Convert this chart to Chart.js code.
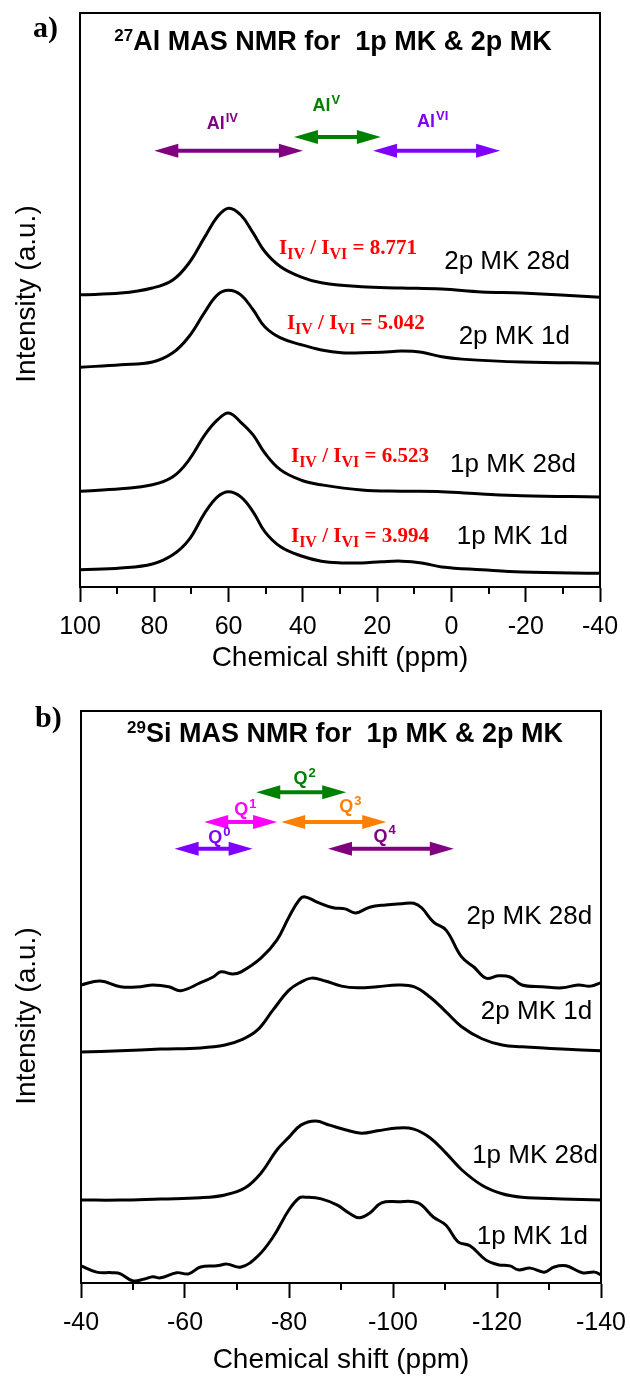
<!DOCTYPE html>
<html>
<head>
<meta charset="utf-8">
<script src="https://cdn.jsdelivr.net/npm/chart.js@4.4.1/dist/chart.umd.min.js"></script>
<style>
  html, body { margin: 0; padding: 0; background: #fff; }
  canvas { display: block; }
</style>
</head>
<body>
<canvas id="alChart" width="630" height="690"></canvas>
<canvas id="siChart" width="630" height="691"></canvas>
<script>
// ---- panel a: 27Al MAS NMR ----
const alSamples = ['2p MK 28d', '2p MK 1d', '1p MK 28d', '1p MK 1d'];
const alOffsets = [50, 38, 15, 2];
const alRatios = [8.771, 5.042, 6.523, 3.994];

const alShift2p28d = [100, 89, 80.5, 75, 70.7, 66.4, 63, 60, 56.7, 53.4, 50.2, 46, 40.4, 35, 24.2, 13.4, 2.6, -8.2, -19, -40];
const alInt2p28d   = [0.9, 1.2, 2.1, 3.5, 6.4, 11.0, 14.5, 16.0, 14.8, 11.7, 8.4, 5.8, 4.0, 3.0, 2.3, 2.1, 1.9, 1.4, 1.2, 0.5];

const alShift2p1d = [100, 89, 80.5, 75, 70.7, 66.4, 63, 60, 56.7, 53.4, 50.2, 46, 40.4, 35, 29.6, 24.2, 18.8, 13.4, 8, 2.6, -2.8, -19, -40];
const alInt2p1d   = [0.3, 0.7, 1.2, 2.8, 5.6, 9.9, 12.9, 13.7, 12.9, 10.3, 7.3, 5.4, 4.2, 3.3, 2.8, 2.8, 2.9, 3.1, 2.9, 2.1, 1.7, 1.2, 1.0];

const alShift1p28d = [100, 89, 80.5, 75, 70.7, 66.4, 63, 60, 56.7, 53.4, 50.2, 46, 40.4, 35, 24.2, 13.4, 2.6, -8.2, -19, -40];
const alInt1p28d   = [1.7, 2.1, 2.8, 4.2, 7.1, 11.5, 14.1, 15.3, 13.7, 11.5, 8.3, 5.4, 3.6, 2.8, 1.9, 1.7, 1.6, 1.2, 0.9, 0.7];

const alShift1p1d = [100, 89, 80.5, 75, 70.7, 66.4, 63, 60, 56.7, 53.4, 50.2, 46, 40.4, 35, 29.6, 24.2, 18.8, 13.4, 8, 2.6, -8.2, -19, -40];
const alInt1p1d   = [1.0, 1.3, 2.0, 3.6, 6.2, 10.9, 13.7, 14.6, 13.7, 11.1, 7.6, 5.0, 3.4, 2.5, 2.2, 2.2, 2.4, 2.5, 2.2, 1.5, 1.0, 0.6, 0.4];

// ---- panel b: 29Si MAS NMR ----
const siSamples = ['2p MK 28d', '2p MK 1d', '1p MK 28d', '1p MK 1d'];
const siOffsets = [50, 40, 14, 0];

const siShift2p28d = [-40, -43.7, -47.6, -51.5, -53.8, -56.9, -59.2, -63.0, -65.4, -66.9, -69.2, -70.8, -74.6, -77.7, -80.0, -82.0, -83.1, -85.4, -88.5, -90.8, -92.8, -95.5, -98.6, -101.7, -104.0, -105.5, -107.8, -110.2, -113.2, -115.6, -117.9, -120.2, -122.5, -124.8, -128.7, -132.5, -135.6, -138.0, -140];
const siInt2p28d   = [2.1, 2.8, 1.8, 1.8, 2.1, 1.8, 1.1, 2.5, 3.5, 4.4, 4.0, 4.4, 6.8, 10.0, 14.0, 17.0, 17.5, 16.6, 15.6, 15.4, 14.7, 15.7, 16.1, 16.3, 16.4, 15.6, 13.1, 11.7, 7.0, 5.2, 3.3, 3.7, 3.5, 2.1, 1.8, 1.6, 2.1, 1.9, 2.5];

const siShift2p1d = [-40, -47.6, -55.3, -63.0, -67.7, -70.8, -73.9, -76.9, -80.0, -82.3, -84.3, -87.0, -90.1, -93.2, -97.0, -100.9, -104.0, -107.1, -110.2, -113.2, -117.1, -121.0, -124.8, -132.5, -140];
const siInt2p1d   = [0.4, 0.6, 0.9, 1.1, 1.6, 2.5, 4.2, 7.7, 11.2, 12.6, 13.3, 12.8, 11.9, 11.6, 11.8, 12.1, 11.8, 10.0, 7.4, 4.8, 2.7, 1.6, 1.3, 0.9, 0.6];

const siShift1p28d = [-40, -47.6, -55.3, -63.0, -67.7, -71.5, -74.6, -77.7, -80.0, -82.3, -85.1, -87.8, -90.8, -93.9, -97.0, -100.9, -104.0, -107.1, -110.2, -113.2, -117.1, -121.0, -124.8, -132.5, -140];
const siInt1p28d   = [0.5, 0.5, 0.7, 0.9, 1.4, 2.6, 5.2, 9.3, 11.5, 13.6, 14.3, 13.6, 12.8, 12.2, 12.6, 13.1, 12.9, 11.4, 8.7, 5.8, 3.1, 1.6, 1.0, 0.7, 0.5];

const siShift1p1d = [-40, -43.0, -46.0, -47.6, -49.9, -52.2, -53.8, -55.3, -58.4, -60.7, -63.0, -66.1, -68.1, -70.8, -73.9, -76.9, -80.0, -82.0, -83.1, -86.2, -89.3, -91.6, -93.5, -95.5, -97.8, -100.9, -104.8, -107.8, -110.2, -112.5, -114.8, -117.9, -120.2, -122.5, -124.1, -126.4, -129.1, -131.0, -133.3, -136.4, -138.8, -140];
const siInt1p1d   = [3.0, 1.9, 1.8, 1.6, 0.4, 0.7, 1.1, 0.9, 1.8, 1.6, 2.8, 3.0, 3.3, 2.8, 4.6, 8.0, 12.8, 14.9, 15.0, 14.7, 13.6, 12.2, 11.4, 12.2, 14.0, 14.2, 14.0, 11.5, 10.1, 7.2, 6.5, 4.0, 3.2, 3.0, 2.3, 2.6, 1.9, 2.8, 3.0, 1.8, 1.9, 1.4];

const SANS = '"Liberation Sans", Arial, sans-serif';
const SERIF = '"Liberation Serif", "Times New Roman", serif';

function spectrum(shifts, ints, offset) {
  return {
    data: shifts.map((s, i) => ({x: s, y: ints[i] + offset})),
    borderColor: '#000',
    borderWidth: 3,
    pointRadius: 0,
    tension: 0.4,
    fill: false
  };
}

function drawArrow(ctx, x1, x2, y, color) {
  const head = 24, half = 7;
  const l = Math.min(x1, x2), r = Math.max(x1, x2);
  ctx.strokeStyle = color;
  ctx.fillStyle = color;
  ctx.lineWidth = 4;
  ctx.beginPath();
  ctx.moveTo(l + head - 2, y);
  ctx.lineTo(r - head + 2, y);
  ctx.stroke();
  ctx.beginPath();
  ctx.moveTo(l, y); ctx.lineTo(l + head, y - half); ctx.lineTo(l + head, y + half);
  ctx.closePath(); ctx.fill();
  ctx.beginPath();
  ctx.moveTo(r, y); ctx.lineTo(r - head, y - half); ctx.lineTo(r - head, y + half);
  ctx.closePath(); ctx.fill();
}

// base text with superscript, centred on cx, cap-centre on cy
function drawSup(ctx, base, sup, cx, cy, size, supSize, color) {
  ctx.fillStyle = color;
  ctx.textAlign = 'left';
  ctx.textBaseline = 'alphabetic';
  ctx.font = 'bold ' + size + 'px ' + SANS;
  const wb = ctx.measureText(base).width;
  ctx.font = 'bold ' + supSize + 'px ' + SANS;
  const ws = ctx.measureText(sup).width;
  const x0 = cx - (wb + ws) / 2;
  const by = cy + size * 0.36;
  ctx.font = 'bold ' + size + 'px ' + SANS;
  ctx.fillText(base, x0, by);
  ctx.font = 'bold ' + supSize + 'px ' + SANS;
  ctx.fillText(sup, x0 + wb + 1, by - size * 0.4);
}

function drawTitle(ctx, iso, rest, cx, baseline) {
  ctx.fillStyle = '#000';
  ctx.textAlign = 'left';
  ctx.textBaseline = 'alphabetic';
  ctx.font = 'bold 17px ' + SANS;
  const wi = ctx.measureText(iso).width;
  ctx.font = 'bold 27px ' + SANS;
  const wr = ctx.measureText(rest).width;
  const x0 = cx - (wi + wr) / 2;
  ctx.font = 'bold 17px ' + SANS;
  ctx.fillText(iso, x0, baseline - 9);
  ctx.font = 'bold 27px ' + SANS;
  ctx.fillText(rest, x0 + wi, baseline);
}

function drawRatio(ctx, value, x, cy) {
  const parts = [['I', 0], ['IV', 1], [' / ', 0], ['I', 0], ['VI', 1], [' = ' + value.toFixed(3), 0]];
  ctx.fillStyle = '#ff0000';
  ctx.textAlign = 'left';
  ctx.textBaseline = 'alphabetic';
  const by = cy + 7;
  let px = x;
  for (const [t, sub] of parts) {
    ctx.font = 'bold ' + (sub ? 16 : 21) + 'px ' + SERIF;
    ctx.fillText(t, px, sub ? by + 5 : by);
    px += ctx.measureText(t).width;
  }
}

function makePlugin(cfg) {
  return {
    id: 'nmrDecor',
    afterDraw(chart) {
      const {ctx, chartArea: a, scales: {x, y}} = chart;
      ctx.save();
      // frame
      ctx.strokeStyle = '#000';
      ctx.lineWidth = 2;
      ctx.strokeRect(a.left, a.top, a.right - a.left, a.bottom - a.top);
      // minor ticks
      for (let v = x.min + 10; v < x.max; v += 20) {
        const px = Math.round(x.getPixelForValue(v));
        ctx.beginPath();
        ctx.moveTo(px, a.bottom);
        ctx.lineTo(px, a.bottom + 7);
        ctx.stroke();
      }
      // panel letter
      ctx.fillStyle = '#000';
      ctx.font = 'bold 30px ' + SERIF;
      ctx.textAlign = 'left';
      ctx.textBaseline = 'alphabetic';
      ctx.fillText(cfg.letter, cfg.letterX, cfg.letterY);
      // title
      drawTitle(ctx, cfg.iso, cfg.title, cfg.titleX, cfg.titleY);
      // y title
      ctx.save();
      ctx.translate(27, cfg.yTitleY);
      ctx.rotate(-Math.PI / 2);
      ctx.fillStyle = '#000';
      ctx.font = '28px ' + SANS;
      ctx.textAlign = 'center';
      ctx.textBaseline = 'middle';
      ctx.fillText('Intensity (a.u.)', 0, 0);
      ctx.restore();
      // range arrows
      for (const r of cfg.ranges) {
        drawArrow(ctx, x.getPixelForValue(r.from), x.getPixelForValue(r.to), y.getPixelForValue(r.y), r.color);
        drawSup(ctx, r.base, r.sup, x.getPixelForValue(r.lx), y.getPixelForValue(r.ly), r.size, r.supSize, r.color);
      }
      // sample labels
      ctx.fillStyle = '#000';
      ctx.font = '26px ' + SANS;
      ctx.textAlign = 'right';
      ctx.textBaseline = 'middle';
      cfg.samples.forEach((s, i) => {
        const p = cfg.labelPos[i];
        ctx.fillText(s, x.getPixelForValue(p[0]), y.getPixelForValue(p[1]));
      });
      // intensity ratios
      if (cfg.ratios) {
        cfg.ratios.forEach((v, i) => {
          const p = cfg.ratioPos[i];
          drawRatio(ctx, v, x.getPixelForValue(p[0]), y.getPixelForValue(p[1]));
        });
      }
      ctx.restore();
    }
  };
}

function makeChart(id, datasets, xMin, xMax, pad, axisH, titlePad, decor) {
  return new Chart(document.getElementById(id), {
    type: 'line',
    data: {datasets: datasets},
    options: {
      responsive: false,
      animation: false,
      layout: {padding: pad},
      plugins: {legend: {display: false}, tooltip: {enabled: false}},
      scales: {
        x: {
          type: 'linear',
          reverse: true,
          min: xMin,
          max: xMax,
          ticks: {stepSize: 20, color: '#000', padding: 10, maxRotation: 0, autoSkip: false,
                  font: {family: SANS, size: 25}},
          grid: {drawOnChartArea: false, drawTicks: true, tickLength: 15, tickWidth: 2, tickColor: '#000'},
          border: {display: true, color: '#000', width: 2},
          title: {display: true, text: 'Chemical shift (ppm)', color: '#000',
                  font: {family: SANS, size: 28}, padding: {top: 0, bottom: titlePad}},
          afterFit: (s) => {
            s.height = axisH;
            // edge labels fit inside the page margins, keep the plot box fixed
            s.paddingLeft = 0;
            s.paddingRight = 0;
          }
        },
        y: {display: false, min: 0, max: 100}
      }
    },
    plugins: [makePlugin(decor)]
  });
}

makeChart('alChart', [
  spectrum(alShift2p28d, alInt2p28d, alOffsets[0]),
  spectrum(alShift2p1d, alInt2p1d, alOffsets[1]),
  spectrum(alShift1p28d, alInt1p28d, alOffsets[2]),
  spectrum(alShift1p1d, alInt1p1d, alOffsets[3])
], -40, 100, {left: 80, right: 30, top: 13, bottom: 0}, 103, 15, {
  letter: 'a)', letterX: 33, letterY: 37,
  iso: '27', title: 'Al MAS NMR for  1p MK & 2p MK', titleX: 333, titleY: 50,
  yTitleY: 294,
  ranges: [
    {from: 80, to: 40, y: 76.0, color: '#800080', base: 'Al', sup: 'IV', lx: 61.8, ly: 80.9, size: 18, supSize: 13},
    {from: 42.4, to: 19, y: 78.4, color: '#008000', base: 'Al', sup: 'V', lx: 33.8, ly: 84.1, size: 18, supSize: 13},
    {from: 21.1, to: -13.1, y: 76.0, color: '#8000ff', base: 'Al', sup: 'VI', lx: 5.2, ly: 81.2, size: 18, supSize: 13}
  ],
  samples: alSamples,
  labelPos: [[-31.9, 56.6], [-31.9, 43.6], [-33.5, 21.3], [-31.4, 8.7]],
  ratios: alRatios,
  ratioPos: [[46.4, 59.3], [44.3, 46.1], [43.2, 23.0], [43.2, 9.1]]
});

makeChart('siChart', [
  spectrum(siShift2p28d, siInt2p28d, siOffsets[0]),
  spectrum(siShift2p1d, siInt2p1d, siOffsets[1]),
  spectrum(siShift1p28d, siInt1p28d, siOffsets[2]),
  spectrum(siShift1p1d, siInt1p1d, siOffsets[3])
], -140, -40, {left: 81, right: 29, top: 21, bottom: 0}, 98, 4, {
  letter: 'b)', letterX: 35, letterY: 37,
  iso: '29', title: 'Si MAS NMR for  1p MK & 2p MK', titleX: 345, titleY: 52,
  yTitleY: 326,
  ranges: [
    {from: -73.7, to: -91, y: 85.8, color: '#008000', base: 'Q', sup: '2', lx: -82.9, ly: 88.3, size: 18, supSize: 13},
    {from: -63.7, to: -77.7, y: 80.6, color: '#ff00ff', base: 'Q', sup: '1', lx: -71.5, ly: 83.0, size: 18, supSize: 13},
    {from: -78.5, to: -98.7, y: 80.6, color: '#ff8000', base: 'Q', sup: '3', lx: -91.7, ly: 83.4, size: 18, supSize: 13},
    {from: -58, to: -73, y: 75.9, color: '#8000ff', base: 'Q', sup: '0', lx: -66.5, ly: 78.1, size: 18, supSize: 13},
    {from: -87.5, to: -111.7, y: 75.9, color: '#800080', base: 'Q', sup: '4', lx: -98.3, ly: 78.3, size: 18, supSize: 13}
  ],
  samples: siSamples,
  labelPos: [[-138.3, 64.0], [-138.3, 47.4], [-139.4, 22.2], [-137.5, 8.0]]
});
</script>
</body>
</html>
